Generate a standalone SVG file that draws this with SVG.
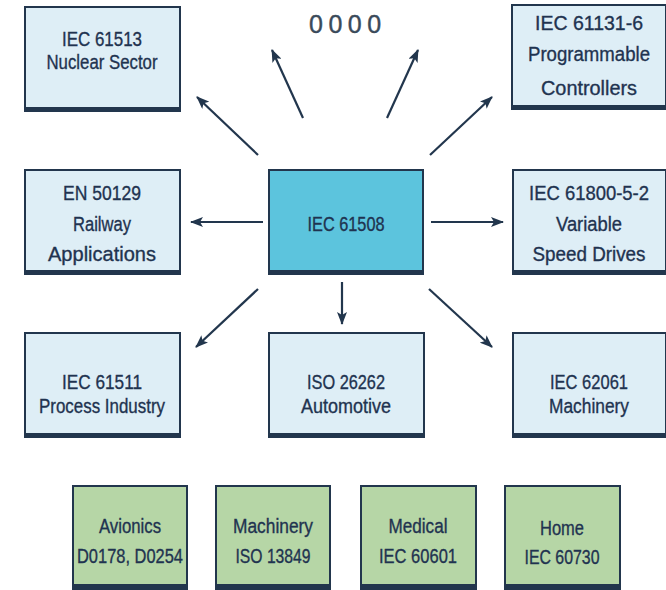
<svg xmlns="http://www.w3.org/2000/svg" width="666" height="590" viewBox="0 0 666 590">
<defs>
<marker id="ah" markerUnits="userSpaceOnUse" markerWidth="13" markerHeight="10" refX="12" refY="5" orient="auto">
<path d="M0,0 L13,5 L0,10 L3,5 z" fill="#22364d"/>
</marker>
<style>
.box{fill:#deeef6;stroke:#22364d;stroke-width:2}
.core{fill:#5cc4dd;stroke:#22364d;stroke-width:2}
.grn{fill:#b6d6a6;stroke:#22364d;stroke-width:2}
.sh{fill:#22364d}
text{font-family:"Liberation Sans",Arial,sans-serif;font-size:20.5px;fill:#1f3350;stroke:#1f3350;stroke-width:0.35;text-anchor:middle}
.dots{font-size:25px;text-anchor:start;letter-spacing:5.5px;fill:#3a4a5a;stroke:#3a4a5a;stroke-width:0.4}
.con line{stroke:#22364d;stroke-width:2.2;marker-end:url(#ah)}
</style>
</defs>
<rect width="666" height="590" fill="#ffffff"/>
<text class="dots" x="309" y="33">0000</text>
<g id="n-iec61513"><rect class="box" x="25" y="7" width="155" height="103"/><rect class="sh" x="24" y="107" width="157" height="5"/><text x="102" y="46" textLength="80" lengthAdjust="spacingAndGlyphs">IEC 61513</text><text x="102" y="69" textLength="111" lengthAdjust="spacingAndGlyphs">Nuclear Sector</text></g>
<g id="n-iec61131"><rect class="box" x="512" y="5" width="154" height="103"/><rect class="sh" x="511" y="105" width="156" height="5"/><text x="589" y="30" textLength="108" lengthAdjust="spacingAndGlyphs">IEC 61131-6</text><text x="589" y="61" textLength="122" lengthAdjust="spacingAndGlyphs">Programmable</text><text x="589" y="95" textLength="96" lengthAdjust="spacingAndGlyphs">Controllers</text></g>
<g id="n-en50129"><rect class="box" x="25" y="170" width="155" height="102"/><rect class="sh" x="24" y="270" width="157" height="5"/><text x="102" y="200" textLength="78" lengthAdjust="spacingAndGlyphs">EN 50129</text><text x="102" y="231" textLength="58" lengthAdjust="spacingAndGlyphs">Railway</text><text x="102" y="261" textLength="108" lengthAdjust="spacingAndGlyphs">Applications</text></g>
<g id="n-iec61508"><rect class="core" x="269" y="170" width="154" height="102"/><rect class="sh" x="268" y="270" width="156" height="5"/><text x="346" y="231" textLength="77" lengthAdjust="spacingAndGlyphs">IEC 61508</text></g>
<g id="n-iec61800"><rect class="box" x="513" y="170" width="153" height="102"/><rect class="sh" x="512" y="270" width="155" height="5"/><text x="589" y="200" textLength="120" lengthAdjust="spacingAndGlyphs">IEC 61800-5-2</text><text x="589" y="231" textLength="66" lengthAdjust="spacingAndGlyphs">Variable</text><text x="589" y="261" textLength="113" lengthAdjust="spacingAndGlyphs">Speed Drives</text></g>
<g id="n-iec61511"><rect class="box" x="25" y="333" width="155" height="102"/><rect class="sh" x="24" y="433" width="157" height="5"/><text x="102" y="389" textLength="80" lengthAdjust="spacingAndGlyphs">IEC 61511</text><text x="102" y="413" textLength="126" lengthAdjust="spacingAndGlyphs">Process Industry</text></g>
<g id="n-iso26262"><rect class="box" x="269" y="333" width="155" height="102"/><rect class="sh" x="268" y="433" width="157" height="5"/><text x="346" y="389" textLength="78" lengthAdjust="spacingAndGlyphs">ISO 26262</text><text x="346" y="413" textLength="90" lengthAdjust="spacingAndGlyphs">Automotive</text></g>
<g id="n-iec62061"><rect class="box" x="513" y="333" width="153" height="102"/><rect class="sh" x="512" y="433" width="155" height="5"/><text x="589" y="389" textLength="78" lengthAdjust="spacingAndGlyphs">IEC 62061</text><text x="589" y="413" textLength="80" lengthAdjust="spacingAndGlyphs">Machinery</text></g>
<g id="n-avionics"><rect class="grn" x="73" y="486" width="114" height="100"/><rect class="sh" x="72" y="584" width="116" height="6"/><text x="130" y="533" textLength="62" lengthAdjust="spacingAndGlyphs">Avionics</text><text x="130" y="563" textLength="106" lengthAdjust="spacingAndGlyphs">D0178, D0254</text></g>
<g id="n-machinery"><rect class="grn" x="216" y="486" width="114" height="100"/><rect class="sh" x="215" y="584" width="116" height="6"/><text x="273" y="533" textLength="80" lengthAdjust="spacingAndGlyphs">Machinery</text><text x="273" y="563" textLength="75" lengthAdjust="spacingAndGlyphs">ISO 13849</text></g>
<g id="n-medical"><rect class="grn" x="361" y="486" width="115" height="100"/><rect class="sh" x="360" y="584" width="117" height="6"/><text x="418" y="533" textLength="59" lengthAdjust="spacingAndGlyphs">Medical</text><text x="418" y="563" textLength="78" lengthAdjust="spacingAndGlyphs">IEC 60601</text></g>
<g id="n-home"><rect class="grn" x="505" y="486" width="115" height="100"/><rect class="sh" x="504" y="584" width="117" height="6"/><text x="562" y="535" textLength="44" lengthAdjust="spacingAndGlyphs">Home</text><text x="562" y="564" textLength="75" lengthAdjust="spacingAndGlyphs">IEC 60730</text></g>
<g id="connectors" class="con">
<line x1="263" y1="222" x2="191" y2="222"/>
<line x1="431" y1="222" x2="503" y2="222"/>
<line x1="342" y1="282" x2="342" y2="324"/>
<line x1="258" y1="289" x2="196" y2="347"/>
<line x1="429" y1="289" x2="492" y2="347"/>
<line x1="258" y1="155" x2="197" y2="97"/>
<line x1="303" y1="118" x2="272" y2="50"/>
<line x1="387" y1="118" x2="418" y2="50"/>
<line x1="430" y1="155" x2="492" y2="97"/>
</g>
</svg>
